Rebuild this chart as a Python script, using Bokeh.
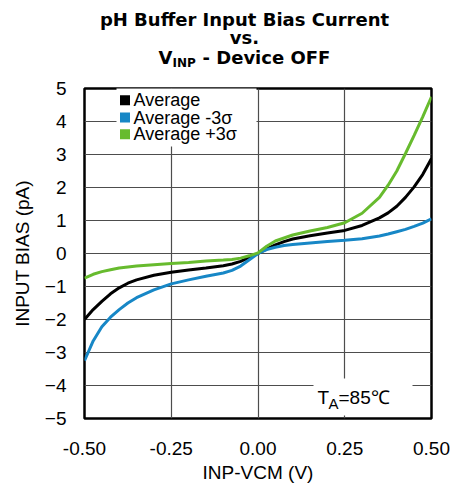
from bokeh.plotting import figure
from bokeh.layouts import column
from bokeh.models import (Range1d, FixedTicker, PrintfTickFormatter, Label, BoxAnnotation)
from bokeh.embed import file_html
from bokeh.resources import INLINE

# ---- data ----
vinp = [-0.5, -0.475, -0.45, -0.425, -0.4, -0.375, -0.35, -0.3, -0.25, -0.2, -0.15,
        -0.1, -0.075, -0.05, -0.025, 0.0, 0.025, 0.05, 0.075, 0.1, 0.15, 0.2, 0.25,
        0.3, 0.35, 0.375, 0.4, 0.425, 0.45, 0.475, 0.5]
avg = [-2.00, -1.70, -1.45, -1.22, -1.04, -0.90, -0.80, -0.66, -0.57, -0.50, -0.44,
       -0.37, -0.32, -0.24, -0.12, 0.0, 0.14, 0.26, 0.36, 0.44, 0.54, 0.62, 0.70,
       0.85, 1.08, 1.23, 1.43, 1.70, 2.02, 2.40, 2.88]
avg_m3s = [-3.25, -2.65, -2.22, -1.93, -1.70, -1.50, -1.34, -1.10, -0.92, -0.80, -0.69,
           -0.59, -0.51, -0.38, -0.19, 0.0, 0.12, 0.19, 0.24, 0.27, 0.32, 0.36, 0.40,
           0.45, 0.53, 0.59, 0.66, 0.73, 0.82, 0.92, 1.05]
avg_p3s = [-0.75, -0.63, -0.55, -0.49, -0.44, -0.41, -0.38, -0.34, -0.30, -0.27, -0.23,
           -0.20, -0.18, -0.14, -0.07, 0.02, 0.22, 0.38, 0.47, 0.56, 0.68, 0.79, 0.93,
           1.22, 1.70, 2.07, 2.50, 3.03, 3.58, 4.15, 4.75]
series_names = ["Average", "Average -3σ", "Average +3σ"]
series_colors = ["#000000", "#1787c6", "#67bb2e"]
x_ticks = [-0.5, -0.25, 0.0, 0.25, 0.5]
y_ticks = [-5, -4, -3, -2, -1, 0, 1, 2, 3, 4, 5]

FONT = "Liberation Sans"
TFONT = "DejaVu Sans"
W = 450
BL, BR = 84, 19          # left / right borders -> frame width 347
FH = 332                 # frame height
TH = 76                  # title strip height

# ---------------- title figure ----------------
t = figure(width=W, height=TH, output_backend="svg", toolbar_location=None,
           x_axis_type=None, y_axis_type=None, x_range=Range1d(0, 1), y_range=Range1d(0, 1),
           min_border_left=BL, min_border_right=BR, min_border_top=0, min_border_bottom=0,
           outline_line_color=None)
t.grid.visible = False


def tlabel(fig, x, y, text, size="18px", align="left", style="bold", font=TFONT):
    fig.add_layout(Label(x=x, y=y, x_units="screen", y_units="screen", text=text,
                         text_font=font, text_font_size=size, text_font_style=style,
                         text_align=align, text_baseline="middle", text_color="black"))


tlabel(t, 160, TH - 19, "pH Buffer Input Bias Current", align="center")
tlabel(t, 160, TH - 37, "vs.", align="center")
tlabel(t, 74, TH - 57, "V")
tlabel(t, 88, TH - 62, "INP", size="12px")
tlabel(t, 118, TH - 57, "- Device OFF")

# ---------------- main figure ----------------
p = figure(width=W, height=12 + FH + 65, output_backend="svg", toolbar_location=None,
           x_range=Range1d(-0.5, 0.5), y_range=Range1d(-5, 5),
           min_border_left=BL, min_border_top=12, min_border_right=BR,
           min_border_bottom=65, background_fill_color="white", border_fill_color="white")

p.outline_line_color = "black"
p.outline_line_width = 2.5

p.xaxis.ticker = FixedTicker(ticks=x_ticks)
p.xaxis.formatter = PrintfTickFormatter(format="%.2f")
p.yaxis.ticker = FixedTicker(ticks=y_ticks)
for ax in (p.xaxis[0], p.yaxis[0]):
    ax.axis_line_color = None
    ax.major_tick_line_color = None
    ax.minor_tick_line_color = None
    ax.major_label_text_font = FONT
    ax.major_label_text_font_size = "19px"
    ax.major_label_text_color = "black"
    ax.axis_label_text_font = FONT
    ax.axis_label_text_font_size = "19px"
    ax.axis_label_text_font_style = "normal"
    ax.axis_label_text_color = "black"
p.xaxis.axis_label = "INP-VCM (V)"
p.yaxis.axis_label = "INPUT BIAS (pA)"
p.xaxis.major_label_standoff = 17
p.yaxis.major_label_standoff = 12
p.xaxis.axis_label_standoff = 4
p.yaxis.axis_label_standoff = 9

p.grid.grid_line_color = "#4d4d4d"
p.grid.grid_line_width = 1.2
p.xgrid.ticker = FixedTicker(ticks=x_ticks)
p.ygrid.ticker = FixedTicker(ticks=y_ticks)

for ys, c in zip([avg, avg_m3s, avg_p3s], series_colors):
    p.line(vinp, ys, line_color=c, line_width=3)

# legend (white box, colour squares, labels)
p.add_layout(BoxAnnotation(left=32, right=172, bottom=FH - 60, top=FH,
                           left_units="screen", right_units="screen",
                           bottom_units="screen", top_units="screen",
                           fill_color="white", fill_alpha=1.0, line_color=None))
row_y = [FH - 13.7, FH - 31, FH - 47.7]
for name, c, ry in zip(series_names, series_colors, row_y):
    p.add_layout(BoxAnnotation(left=35.5, right=45.5, bottom=ry - 5, top=ry + 5,
                               left_units="screen", right_units="screen",
                               bottom_units="screen", top_units="screen",
                               fill_color=c, fill_alpha=1.0, line_color=None))
    tlabel(p, 49, ry, name, size="18px", style="normal", font=FONT)

# T_A annotation
p.add_layout(BoxAnnotation(left=229, right=328, bottom=3, top=40,
                           left_units="screen", right_units="screen",
                           bottom_units="screen", top_units="screen",
                           fill_color="white", fill_alpha=1.0, line_color=None))
tlabel(p, 233, 21, "T", size="19px", style="normal", font=FONT)
tlabel(p, 244, 15, "A", size="15px", style="normal", font=FONT)
tlabel(p, 254, 21, "=85℃", size="19px", style="normal", font=FONT)

layout = column(t, p, spacing=0)
open("out.html", "w").write(file_html(layout, INLINE))
